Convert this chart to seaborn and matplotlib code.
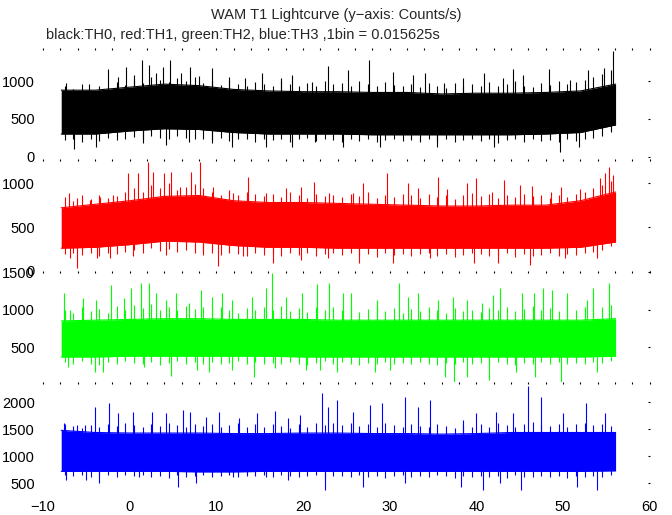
"""
WAM T1 lightcurve, four energy bands (TH0..TH3), stacked panels.
Values are read off the reference picture: a solid core band per
band (low / high edge every 4 s), the hair fringe per 1 s and the
taller single-bin spikes.
"""

import pandas as pd
import matplotlib.pyplot as plt
import seaborn as sns

sns.set_style("white")
plt.rcParams["font.family"] = ["Liberation Sans", "DejaVu Sans"]
plt.rcParams["font.size"] = 10.5

# -----------------------------
# Data
# -----------------------------
t_core = [-7.9, -4, 0, 4, 8, 12, 16, 20, 24, 28, 32, 36, 40, 44, 48, 52, 56.05]
t_fringe = [t + 0.5 for t in range(-8, 56)]  # 1 s columns

# TH0 (black)
th0_hi = [880, 880, 920, 960, 940, 890, 870, 860, 860, 850, 850, 830, 840, 840, 850, 870, 960]
th0_lo = [300, 300, 340, 370, 360, 320, 300, 300, 300, 290, 290, 290, 290, 290, 300, 320, 420]
th0_fr_hi = [930, 900, 960, 880, 940, 910, 990, 950, 1010, 980, 1060, 1020, 990, 1040, 1000, 1060,
             980, 1000, 950, 1010, 960, 930, 990, 960, 940, 1000, 960, 930, 980, 940, 1000, 960,
             980, 930, 1000, 960, 940, 990, 950, 930, 960, 920, 980, 940, 910, 970, 930, 960,
             940, 990, 930, 960, 1000, 940, 920, 980, 950, 1000, 960, 990, 1020, 1060, 1100, 1150]
th0_fr_lo = [220, 240, 200, 230, 210, 250, 220, 240, 260, 230, 270, 250, 240, 280, 250, 230,
             240, 220, 250, 210, 230, 240, 200, 230, 220, 240, 200, 230, 250, 210, 230, 220,
             200, 230, 210, 240, 200, 220, 230, 210, 220, 200, 230, 210, 240, 200, 220, 230,
             210, 230, 180, 220, 240, 200, 230, 210, 220, 190, 230, 210, 240, 250, 280, 330]
th0_up_t = [-7.35, -4.74, -2.55, -1.4, -0.44, 0.52, 1.4, 2.25, 3.0, 3.8, 4.7, 5.9, 7.0, 8.0,
            9.5, 11.4, 13.3, 15.3, 17.4, 18.7, 21.0, 22.9, 25.2, 27.6, 30.4, 32.7, 34.1,
            36.2, 38.5, 40.9, 43.1, 44.2, 45.4, 48.4, 50.8, 52.9, 54.7, 55.8]
th0_up_v = [971, 962, 1156, 1059, 1191, 1081, 1279, 1213, 1103, 1191, 1279, 1103, 1182, 1068,
            1169, 1059, 1037, 1103, 1037, 1081, 993, 1200, 1147, 1279, 1125, 1081, 1103,
            971, 1037, 1103, 1037, 1156, 1081, 1156, 1015, 1147, 1169, 1400]
th0_dn_t = [-6.45, -3.9, 1.5, 4.2, 6.8, 9.5, 11.8, 15.7, 18.7, 21.4, 24.6, 28.9, 35.4, 42.0,
            49.6, 51.8]
th0_dn_v = [98, 125, 187, 156, 200, 178, 125, 125, 125, 200, 125, 125, 125, 125, 68, 125]

# TH1 (red)
th1_hi = [720, 760, 800, 850, 860, 800, 780, 780, 770, 760, 750, 740, 740, 750, 750, 800, 900]
th1_lo = [260, 270, 300, 340, 330, 290, 270, 270, 260, 260, 260, 260, 260, 260, 260, 270, 330]
th1_fr_hi = [840, 800, 860, 820, 870, 830, 850, 900, 950, 900, 980, 940, 1000, 920, 960, 990,
             940, 900, 870, 920, 860, 900, 880, 850, 880, 840, 900, 860, 830, 880, 850, 870,
             840, 880, 850, 900, 830, 870, 840, 880, 860, 830, 880, 840, 870, 820, 860, 890,
             850, 880, 830, 870, 840, 880, 850, 860, 830, 870, 840, 880, 900, 950, 980, 1020]
th1_fr_lo = [190, 210, 180, 200, 170, 210, 190, 220, 240, 210, 260, 230, 250, 220, 240, 210,
             220, 200, 180, 210, 190, 170, 200, 180, 190, 170, 200, 180, 210, 170, 190, 200,
             180, 200, 170, 190, 160, 200, 180, 190, 170, 190, 200, 170, 190, 160, 180, 200,
             190, 170, 180, 200, 160, 190, 170, 180, 200, 170, 190, 180, 200, 220, 240, 280]
th1_up_t = [-7.0, -6.1, -4.6, -3.4, -1.9, -0.2, 1.0, 2.15, 2.7, 3.9, 4.8, 5.8, 7.1, 8.1, 9.6,
            11.9, 13.6, 15.7, 18.0, 19.8, 21.3, 23.0, 25.8, 26.9, 29.7, 32.1, 33.3, 35.6,
            36.6, 38.9, 40.0, 41.8, 43.2, 45.0, 46.4, 48.6, 49.8, 51.9, 54.2, 54.8, 55.3, 55.7]
th1_up_v = [893, 829, 810, 848, 867, 1113, 1113, 1245, 1132, 1113, 1132, 962, 1132, 1245, 962,
            886, 1075, 886, 943, 962, 1018, 886, 886, 1000, 1113, 1000, 943, 1075,
            931, 1000, 1056, 905, 1037, 981, 969, 905, 962, 931, 1056, 1113, 1189, 1094]
th1_dn_t = [-6.9, -6.1, -3.8, -2.3, 0.4, 4.2, 8.5, 10.2, 13.1, 16.5, 19.8, 22.9, 26.4, 30.4,
            34.6, 39.7, 42.5, 46.2, 50.2, 53.9]
th1_dn_v = [147, 34, 147, 147, 166, 185, 185, 52, 166, 90, 128, 147, 90, 90,
            147, 90, 90, 71, 147, 147]

# TH2 (green)
th2_hi = [850, 860, 870, 880, 880, 870, 870, 870, 860, 860, 860, 860, 860, 860, 860, 860, 880]
th2_lo = [370, 370, 380, 380, 380, 380, 380, 370, 370, 370, 370, 370, 370, 370, 370, 370, 380]
th2_fr_hi = [1000, 960, 1040, 980, 1010, 960, 1050, 1000, 1060, 1020, 1080, 1000, 1040, 990, 1050,
             1010, 1030, 980, 1040, 1000, 960, 1020, 990, 1040, 1000, 1050, 980, 1020, 970, 1030,
             1000, 1040, 990, 1030, 970, 1010, 1050, 980, 1020, 960, 1010, 980, 1040, 990, 960,
             1020, 980, 1000, 970, 1020, 990, 1040, 980, 1010, 1050, 990, 1020, 980, 1030, 990,
             1040, 1000, 1030, 1060]
th2_fr_lo = [300, 270, 310, 280, 260, 300, 280, 310, 290, 270, 300, 260, 290, 310, 280, 300,
             280, 300, 270, 290, 310, 270, 300, 280, 290, 270, 300, 280, 260, 290, 310, 280,
             300, 280, 260, 290, 270, 300, 280, 290, 270, 300, 280, 260, 290, 270, 300, 280,
             290, 270, 300, 280, 260, 290, 270, 300, 280, 300, 270, 290, 280, 300, 290, 310]
th2_up_t = [-7.6, -6.9, -5.4, -3.9, -2.2, -0.6, 0.1, 1.3, 2.2, 3.0, 4.2, 5.3, 6.8, 8.2, 9.5,
            10.7, 11.8, 14.1, 15.7, 16.4, 18.0, 19.9, 21.6, 23.0, 24.6, 25.5, 28.5, 31.1,
            32.1, 33.3, 35.6, 37.3, 38.9, 40.6, 41.9, 42.7, 45.2, 46.6, 47.7, 48.7, 50.4,
            52.7, 53.5, 55.3]
th2_up_v = [1218, 996, 1152, 1129, 1329, 1152, 1284, 1351, 1351, 1218, 1129, 1218, 1085, 1262,
            1174, 1218, 1129, 1174, 1284, 1484, 1174, 1218, 1342, 1351, 1218, 1218, 1129, 1351,
            1174, 1218, 1129, 1174, 1129, 1085, 1196, 1284, 1218, 1218, 1284, 1262, 1218,
            1129, 1284, 1351]
th2_dn_t = [-7.1, -4.0, -3.1, 1.7, 4.8, 7.8, 9.1, 11.8, 14.3, 16.8, 20.3, 22.0, 23.9, 28.3,
            30.0, 36.4, 37.4, 38.9, 41.4, 44.6, 46.8, 49.8, 53.9]
th2_dn_v = [242, 175, 175, 242, 118, 198, 175, 198, 100, 220, 198, 198, 175, 175,
            198, 109, 42, 109, 65, 175, 109, 42, 175]

# TH3 (blue)
th3_hi = [1480, 1440, 1430, 1430, 1430, 1420, 1420, 1430, 1430, 1420, 1420, 1410, 1420, 1440,
          1440, 1440, 1440]
th3_lo = [720, 720, 720, 720, 710, 710, 720, 720, 720, 720, 720, 720, 720, 720, 720, 720, 730]
th3_fr_hi = [1600, 1560, 1530, 1580, 1540, 1600, 1560, 1620, 1580, 1540, 1600, 1560, 1620, 1570,
             1540, 1590, 1560, 1600, 1540, 1580, 1620, 1550, 1590, 1540, 1600, 1560, 1530, 1590,
             1550, 1610, 1570, 1620, 1580, 1620, 1560, 1600, 1540, 1610, 1570, 1550, 1600, 1560,
             1540, 1590, 1560, 1530, 1580, 1550, 1590, 1550, 1610, 1570, 1540, 1600, 1640, 1580,
             1560, 1600, 1540, 1590, 1620, 1570, 1600, 1560]
th3_fr_lo = [660, 630, 650, 610, 640, 660, 620, 650, 630, 650, 610, 640, 600, 650, 620, 640,
             650, 620, 640, 660, 610, 640, 630, 650, 620, 650, 630, 610, 640, 660, 600, 640,
             630, 610, 650, 620, 640, 600, 630, 650, 620, 640, 610, 650, 630, 600, 640, 620,
             640, 610, 630, 600, 650, 620, 610, 640, 620, 640, 600, 630, 610, 640, 620, 650]
th3_up_t = [-7.6, -6.1, -5.2, -4.0, -2.4, -1.4, 0.4, 2.6, 4.2, 6.1, 6.9, 8.8, 10.3, 12.6,
            14.7, 16.8, 18.3, 19.7, 22.2, 22.9, 23.9, 25.8, 27.7, 29.1, 31.8, 33.2, 34.6,
            38.5, 40.0, 42.3, 44.2, 45.9, 47.5, 50.0, 52.6, 54.8]
th3_up_v = [1610, 1579, 1579, 1917, 1979, 1794, 1825, 1825, 1794, 1856, 1825, 1733, 1825, 1702,
            1794, 1843, 1702, 1764, 2164, 1917, 2041, 1825, 1948, 1979, 2102, 1917, 2041,
            1671, 1794, 1825, 1794, 2300, 2102, 1794, 1979, 1794]
th3_dn_t = [-7.3, -5.0, -3.5, 1.1, 5.6, 7.7, 11.9, 15.7, 18.3, 22.5, 26.9, 31.8, 38.2, 40.8,
            42.7, 45.1, 51.6, 53.9]
th3_dn_v = [561, 561, 499, 623, 425, 499, 623, 623, 561, 376, 438, 499, 438, 376,
            499, 376, 438, 376]

bands = ["TH0", "TH1", "TH2", "TH3"]
colors = ["#000000", "#ff0000", "#00ff00", "#0000ff"]
ylims = [(-37, 1438), (0, 1270), (30, 1515), (300, 2367)]
yticks = [[0, 500, 1000], [0, 500, 1000], [500, 1000, 1500], [500, 1000, 1500, 2000]]

series = {
    "TH0": (th0_hi, th0_lo, th0_fr_hi, th0_fr_lo, th0_up_t, th0_up_v, th0_dn_t, th0_dn_v),
    "TH1": (th1_hi, th1_lo, th1_fr_hi, th1_fr_lo, th1_up_t, th1_up_v, th1_dn_t, th1_dn_v),
    "TH2": (th2_hi, th2_lo, th2_fr_hi, th2_fr_lo, th2_up_t, th2_up_v, th2_dn_t, th2_dn_v),
    "TH3": (th3_hi, th3_lo, th3_fr_hi, th3_fr_lo, th3_up_t, th3_up_v, th3_dn_t, th3_dn_v),
}

# -----------------------------
# Figure
# -----------------------------
fig = plt.figure(figsize=(6.72, 5.15), dpi=100)
edges = [0.9068, 0.6903, 0.4738, 0.2573, 0.0408]

for i, band in enumerate(bands):
    hi, lo, fr_hi, fr_lo, up_t, up_v, dn_t, dn_v = series[band]
    col = colors[i]
    ax = fig.add_axes([0.064, edges[i + 1], 0.903, edges[i] - edges[i + 1]])

    core = pd.DataFrame({"t": t_core, "hi": hi, "lo": lo})
    ax.fill_between(core["t"], core["lo"], core["hi"], color=col, lw=0)
    sns.lineplot(data=core, x="t", y="hi", color=col, lw=0.8, ax=ax)
    sns.lineplot(data=core, x="t", y="lo", color=col, lw=0.8, ax=ax)

    mid_level = float((pd.Series(hi) + pd.Series(lo)).mean() / 2)

    # hair fringe, one stick per second
    ax.vlines(t_fringe, mid_level, fr_hi, color=col, lw=0.8)
    ax.vlines(t_fringe, fr_lo, mid_level, color=col, lw=0.8)

    # single-bin spikes above / below the core
    ax.vlines(up_t, mid_level, up_v, color=col, lw=0.8)
    ax.vlines(dn_t, dn_v, mid_level, color=col, lw=0.8)

    ax.set_xlim(-10, 60)
    ax.set_ylim(*ylims[i])
    ax.set_yticks(yticks[i])
    ax.set_xticks(range(-10, 61, 10))
    ax.set_xticks(range(-10, 61, 2), minor=True)
    ax.set_xlabel("")
    ax.set_ylabel("")
    for s in ax.spines.values():
        s.set_visible(False)
    ax.tick_params(axis="both", which="both", direction="in", length=1.5, width=0.8,
                   top=True, right=True, colors="black", labelsize=10.5)
    ax.tick_params(axis="y", pad=6)
    if i < 3:
        ax.tick_params(axis="x", labelbottom=False)
    else:
        ax.tick_params(axis="x", pad=4)

fig.text(0.5, 0.971, "WAM T1 Lightcurve (y\u2212axis: Counts/s)", ha="center", va="center",
         fontsize=10.5)
fig.text(0.068, 0.932, "black:TH0, red:TH1, green:TH2, blue:TH3 ,1bin = 0.015625s",
         ha="left", va="center", fontsize=10.5)

fig.savefig("out.png", dpi=100)
